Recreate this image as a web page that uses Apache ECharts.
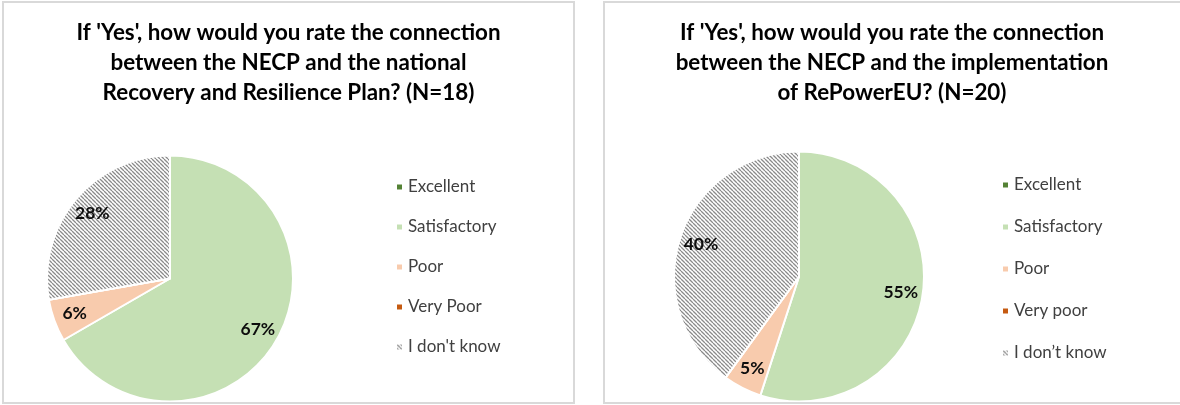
<!DOCTYPE html>
<html>
<head>
<meta charset="utf-8">
<script src="https://cdn.jsdelivr.net/npm/echarts@6/dist/echarts.min.js"></script>
<style>
  html, body { margin: 0; padding: 0; width: 1180px; height: 405px; overflow: hidden; background: #fff; }
  .box { position: absolute; box-sizing: border-box; border: 2px solid #d9d9d9; background: #fff; }
  .chart { position: absolute; left: 0; top: 0; }
</style>
</head>
<body>
<div class="box" style="left:2px; top:1px; width:573px; height:403px;">
  <div id="c1" class="chart" style="width:569px; height:399px;"></div>
</div>
<div class="box" style="left:603px; top:1px; width:590px; height:403px;">
  <div id="c2" class="chart" style="width:574px; height:399px;"></div>
</div>
<script>
// ---- data ----
const titleLeft = "If 'Yes', how would you rate the connection\nbetween the NECP and the national\nRecovery and Resilience Plan? (N=18)";
const titleRight = "If 'Yes', how would you rate the connection\nbetween the NECP and the implementation\nof RePowerEU? (N=20)";
const categoriesLeft = ['Excellent', 'Satisfactory', 'Poor', 'Very Poor', "I don't know"];
const categoriesRight = ['Excellent', 'Satisfactory', 'Poor', 'Very poor', 'I don\u2019t know'];
const valuesLeft = [0, 12, 1, 0, 5];   // N = 18
const valuesRight = [0, 11, 1, 0, 8];  // N = 20

// ---- styling ----
function hatch() {
  const c = document.createElement('canvas');
  c.width = 4; c.height = 4;
  const g = c.getContext('2d');
  g.fillStyle = '#ffffff';
  g.fillRect(0, 0, 4, 4);
  g.strokeStyle = '#8a8a8a';
  g.lineWidth = 1.3;
  g.beginPath();
  for (let k = -8; k <= 8; k += 4) {
    g.moveTo(k, 0); g.lineTo(k + 4, 4);
  }
  g.stroke();
  return c;
}
const pattern = { image: hatch(), repeat: 'repeat' };
const colors = ['#548235', '#c5e0b4', '#f8cbad', '#c55a11', pattern];
const FONT = 'Lato';

function build(el, title, cats, vals, center, r, legendLeft, legendTop, gap) {
  const data = cats.map((n, i) => ({ name: n, value: vals[i], itemStyle: { color: colors[i] } }));
  const chart = echarts.init(document.getElementById(el), null, { renderer: 'canvas' });
  chart.setOption({
    animation: false,
    title: {
      text: title,
      left: 'center',
      top: 10,
      textStyle: { fontFamily: FONT, fontWeight: 'bold', fontSize: 22.4, lineHeight: 30, color: '#000' }
    },
    legend: {
      orient: 'vertical',
      left: legendLeft,
      top: legendTop,
      icon: 'rect',
      itemWidth: 7,
      itemHeight: 7,
      itemGap: gap,
      data: cats,
      selectedMode: false,
      textStyle: { fontFamily: FONT, fontSize: 17, lineHeight: 18, color: '#404040' }
    },
    series: [
      {
        type: 'pie',
        center: center,
        radius: [0, r],
        startAngle: 90,
        clockwise: true,
        avoidLabelOverlap: false,
        silent: true,
        itemStyle: { borderColor: '#fff', borderWidth: 2 },
        label: { show: false },
        labelLine: { show: false },
        data: data
      },
      {
        type: 'pie',
        center: center,
        radius: [r * 0.6, r],
        startAngle: 90,
        clockwise: true,
        avoidLabelOverlap: false,
        silent: true,
        itemStyle: { color: 'rgba(0,0,0,0)', borderWidth: 0 },
        label: {
          show: true,
          position: 'inside',
          fontFamily: FONT,
          fontWeight: 'bold',
          fontSize: 17.5,
          color: '#0d0d0d',
          formatter: p => p.value > 0 ? Math.round(p.percent) + '%' : ''
        },
        labelLine: { show: false },
        data: cats.map((n, i) => ({ name: n, value: vals[i] }))
      }
    ]
  });
}

build('c1', titleLeft, categoriesLeft, valuesLeft, [166, 275.5], 123, 386, 170, 22);
build('c2', titleRight, categoriesRight, valuesRight, [194, 273.5], 125, 391, 168, 24);
</script>
</body>
</html>
